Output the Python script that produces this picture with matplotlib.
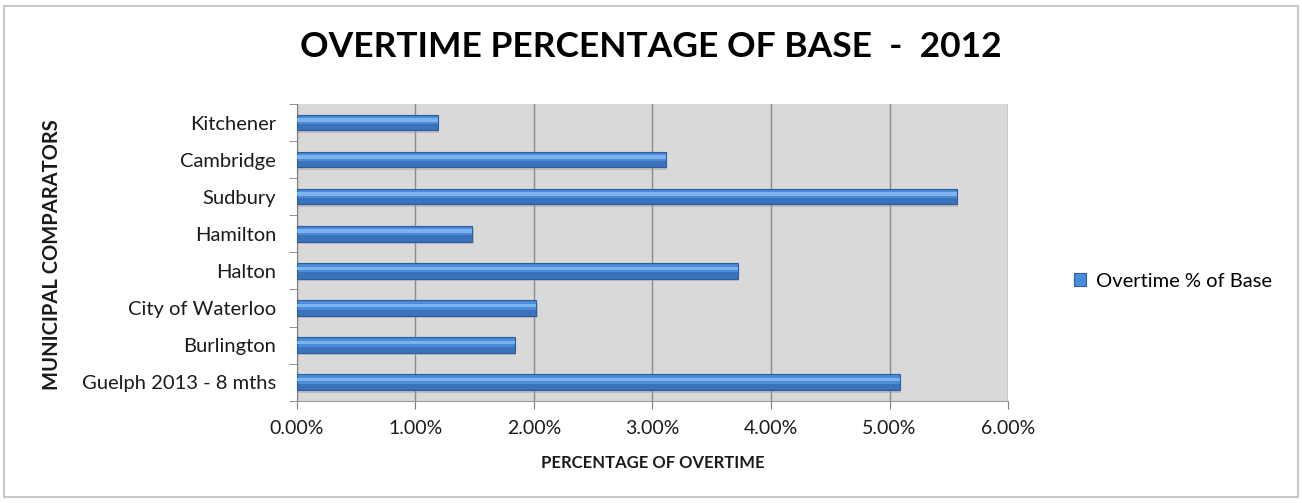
"""
Overtime as a percentage of base pay for municipal comparators, 2012.
Horizontal bar chart saved to out.png.
"""

import matplotlib.pyplot as plt
from matplotlib.patches import Rectangle
from matplotlib.ticker import FuncFormatter, MultipleLocator

# Chart data (bottom to top)
comparators = [
    "Guelph 2013 - 8 mths",
    "Burlington",
    "City of Waterloo",
    "Halton",
    "Hamilton",
    "Sudbury",
    "Cambridge",
    "Kitchener",
]
overtime_pct = [5.09, 1.84, 2.02, 3.72, 1.48, 5.57, 3.11, 1.19]
series_name = "Overtime % of Base"

FONT = ["Lato", "DejaVu Sans"]
BAR_COLOR = "#4a8bda"
BAR_DARK = "#2c5c9f"
BAR_LIGHT = "#86bbf2"


def plot():
    fig = plt.figure(figsize=(13.02, 5.03), dpi=100)
    fig.patch.set_facecolor("white")

    # thin light border round the whole chart
    fig.add_artist(Rectangle((4 / 1302, 6 / 503), 1294 / 1302, 491 / 503,
                             transform=fig.transFigure, fill=False,
                             edgecolor="#bdbdbd", linewidth=1.2))

    ax = fig.add_axes([0.2281, 0.2034, 0.5461, 0.5899])
    ax.set_facecolor("#d9d9d9")

    y = list(range(len(comparators)))
    h = 0.42

    # soft shadow, main bar, dark underside and top highlight
    ax.barh([v - 0.07 for v in y], overtime_pct, height=h, left=0.01,
            color="#9a9a9a", alpha=0.45, zorder=2)
    bars = ax.barh(y, overtime_pct, height=h, color=BAR_COLOR,
                   edgecolor=BAR_DARK, linewidth=0.8, zorder=3,
                   label=series_name)
    ax.barh([v - h * 0.3 for v in y], overtime_pct, height=h * 0.4,
            color=BAR_DARK, alpha=0.5, zorder=4)
    ax.barh([v + h * 0.17 for v in y], overtime_pct, height=h * 0.22,
            color=BAR_LIGHT, alpha=0.85, zorder=4)

    ax.set_xlim(0, 6)
    ax.set_ylim(-0.5, len(comparators) - 0.5)
    ax.xaxis.set_major_locator(MultipleLocator(1))
    ax.xaxis.set_major_formatter(FuncFormatter(lambda v, _: f"{v:.2f}%"))
    ax.grid(axis="x", color="#8a8a8a", linewidth=1, zorder=1)
    ax.set_axisbelow(True)

    # category labels centred on bars, tick marks between categories
    ax.set_yticks(y)
    ax.set_yticklabels(comparators, family=FONT, fontsize=14.5, color="#1a1a1a")
    ax.tick_params(axis="y", length=0, pad=15)
    ax.set_yticks([v - 0.5 for v in range(len(comparators) + 1)], minor=True)
    ax.tick_params(axis="y", which="minor", length=6, color="#7f7f7f",
                   direction="out")
    ax.tick_params(axis="x", length=6, color="#7f7f7f", pad=8,
                   labelsize=14, labelcolor="#1a1a1a")
    for lbl in ax.get_xticklabels():
        lbl.set_family(FONT)

    for side in ("top", "right"):
        ax.spines[side].set_visible(False)
    ax.spines["left"].set_color("#7f7f7f")
    ax.spines["bottom"].set_color("#9a9a9a")

    fig.text(0.5, 0.906, "OVERTIME PERCENTAGE OF BASE  -  2012",
             ha="center", va="center", family=FONT, fontsize=25.5,
             fontweight="bold", color="black")
    ax.set_xlabel("PERCENTAGE OF OVERTIME", family=FONT, fontsize=12,
                  fontweight="bold", labelpad=13, color="#1a1a1a")
    fig.text(0.040, 0.493, "MUNICIPAL COMPARATORS", rotation=90,
             ha="center", va="center", family=FONT, fontsize=14.5,
             fontweight="bold", color="#1a1a1a")

    fig.legend(handles=[bars], labels=[series_name], loc="center left",
               bbox_to_anchor=(0.811, 0.441), frameon=False,
               prop={"family": FONT, "size": 14.5}, handlelength=0.6,
               handleheight=0.6, handletextpad=0.5)

    fig.savefig("out.png", dpi=100)


plot()
